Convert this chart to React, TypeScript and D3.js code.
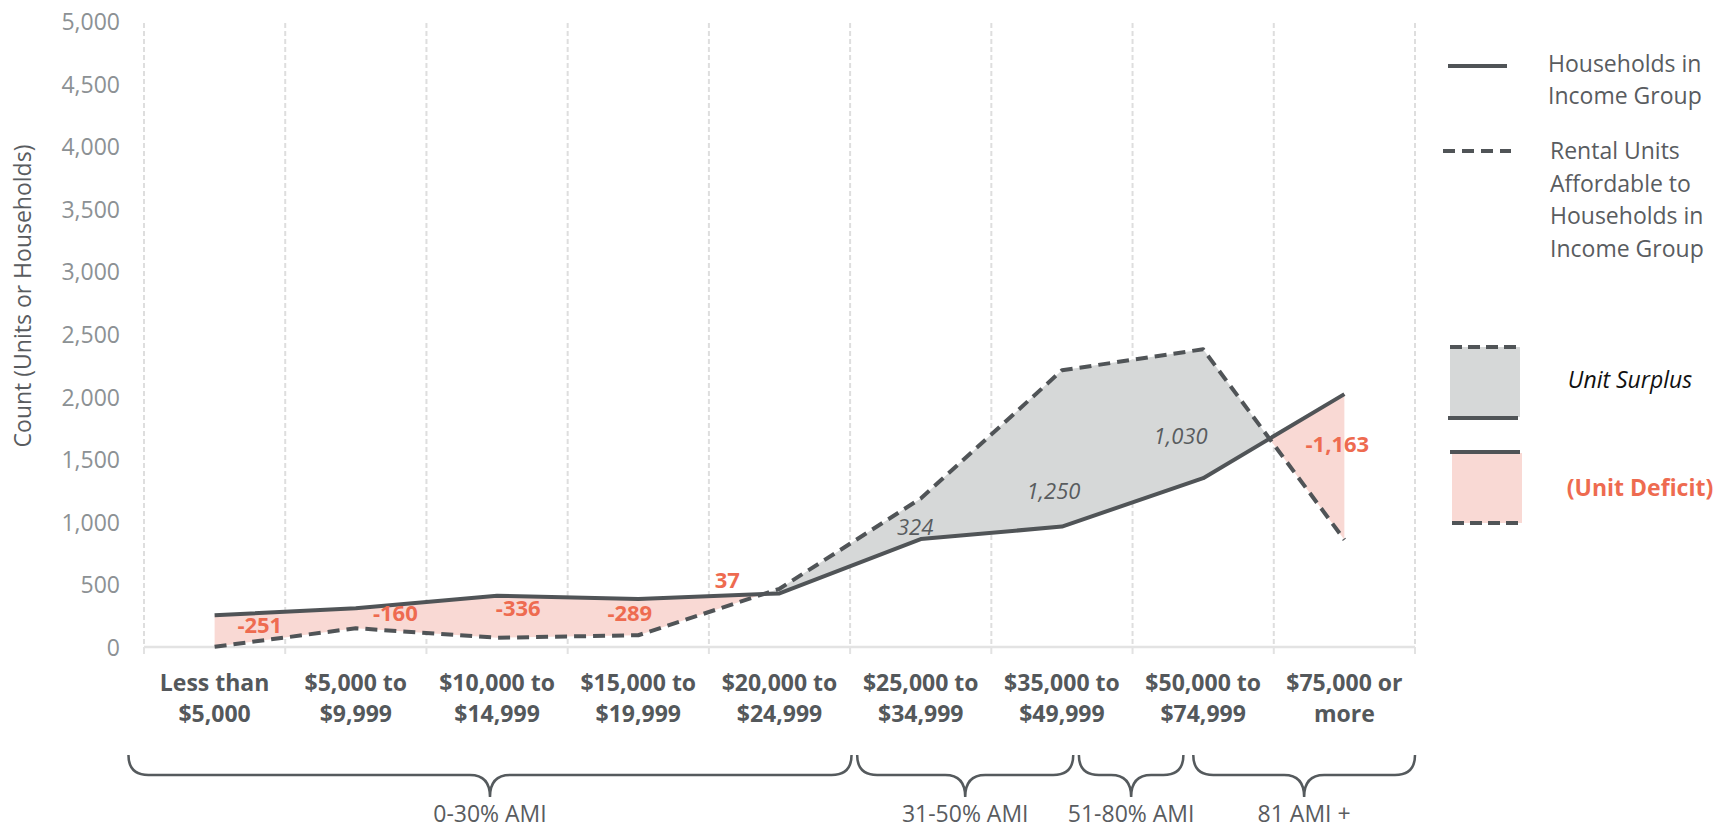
import React from "react";
import * as d3 from "d3";

// ---------- data ----------
const CATEGORIES: string[][] = [
  ["Less than", "$5,000"],
  ["$5,000 to", "$9,999"],
  ["$10,000 to", "$14,999"],
  ["$15,000 to", "$19,999"],
  ["$20,000 to", "$24,999"],
  ["$25,000 to", "$34,999"],
  ["$35,000 to", "$49,999"],
  ["$50,000 to", "$74,999"],
  ["$75,000 or", "more"],
];
const HOUSEHOLDS = [253, 310, 410, 383, 428, 862, 962, 1348, 2020];
const RENTAL_UNITS = [2, 150, 74, 94, 465, 1186, 2210, 2378, 857];
const GAP_LABELS = [-251, -160, -336, -289, 37, 324, 1250, 1030, -1163];
const GAP_KIND = ["deficit", "deficit", "deficit", "deficit", "deficit", "surplus", "surplus", "surplus", "deficit"];
const Y_TICKS = [0, 500, 1000, 1500, 2000, 2500, 3000, 3500, 4000, 4500, 5000];
const AMI_GROUPS = ["0-30% AMI", "31-50% AMI", "51-80% AMI", "81 AMI +"];
const Y_TITLE = "Count (Units or Households)";
const LEGEND_SOLID = ["Households in", "Income Group"];
const LEGEND_DASHED = ["Rental Units", "Affordable to", "Households in", "Income Group"];

// ---------- layout (positions in scale units) ----------
const LABEL_ANCHORS: number[][] = [
  [0.32, 184], [1.28, 280], [2.15, 320], [2.94, 280], [3.63, 543],
  [4.96, 966], [5.94, 1254], [6.84, 1693], [7.95, 1629],
];
const AMI_SPANS: number[][] = [
  [-0.11, 5.01], [5.05, 6.58], [6.62, 7.36], [7.43, 9.0],
];

const W = 1734;
const H = 832;
const FONT = "'Open Sans', 'Noto Sans', sans-serif";
const LINE = "#505457";
const RED = "#ee6b50";
const PINK = "#f9d9d4";
const GREY_FILL = "#d6d8d8";
const TEXT = "#595c5f";
const DASH = "12,7";

const fmt = d3.formatLocale({ decimal: ".", thousands: ",", grouping: [3], currency: ["$", ""], minus: "-" }).format(",");

export default function App() {
  const n = CATEGORIES.length;
  const keys = CATEGORIES.map((c) => c.join(" "));
  const x = d3.scaleBand<string>().domain(keys).range([144, 1415]).padding(0);
  const y = d3.scaleLinear().domain([0, 5000]).range([647, 21]);
  const edge = d3.scaleLinear().domain([0, n]).range([144, 1415]);
  const xc = (i: number) => (x(keys[i]) as number) + x.bandwidth() / 2;
  const xi = d3.scaleLinear().domain([0, n - 1]).range([xc(0), xc(n - 1)]);

  // build runs of same-sign gap, splitting at crossings
  type P = { t: number; h: number; u: number };
  const runs: { sign: number; pts: P[] }[] = [];
  let cur: { sign: number; pts: P[] } | null = null;
  for (let i = 0; i < n; i++) {
    const d = RENTAL_UNITS[i] - HOUSEHOLDS[i];
    const s = d >= 0 ? 1 : -1;
    const p = { t: i, h: HOUSEHOLDS[i], u: RENTAL_UNITS[i] };
    if (!cur) {
      cur = { sign: s, pts: [p] };
      runs.push(cur);
      continue;
    }
    if (s === cur.sign) {
      cur.pts.push(p);
    } else {
      const dp = RENTAL_UNITS[i - 1] - HOUSEHOLDS[i - 1];
      const f = dp / (dp - d);
      const hx = HOUSEHOLDS[i - 1] + f * (HOUSEHOLDS[i] - HOUSEHOLDS[i - 1]);
      const cp = { t: i - 1 + f, h: hx, u: hx };
      cur.pts.push(cp);
      cur = { sign: s, pts: [cp, p] };
      runs.push(cur);
    }
  }
  const area = d3
    .area<P>()
    .x((p) => xi(p.t))
    .y0((p) => y(p.h))
    .y1((p) => y(p.u));
  const lineH = d3.line<number>().x((_, i) => xc(i)).y((v) => y(v));

  const braceTop = 755;
  const braceMid = 775;
  const braceTip = 797;
  const r = 20;
  const bracePath = (L: number, R: number) => {
    const M = (L + R) / 2;
    return `M${L},${braceTop} Q${L},${braceMid} ${L + r},${braceMid} H${M - r} Q${M},${braceMid} ${M},${braceTip} Q${M},${braceMid} ${M + r},${braceMid} H${R - r} Q${R},${braceMid} ${R},${braceTop}`;
  };

  return (
    <svg
      width={W}
      height={H}
      style={{ position: "absolute", left: 0, top: 0, background: "#fff" }}
      fontFamily={FONT}
    >
      {/* gridlines */}
      {d3.range(n + 1).map((k) => (
        <g key={"g" + k}>
          <line x1={edge(k)} x2={edge(k)} y1={y(5000) + 2} y2={y(0)} stroke="#dedede" strokeWidth={2} strokeDasharray="5,3" />
          <line x1={edge(k)} x2={edge(k)} y1={y(0)} y2={y(0) + 7} stroke="#e2e2e2" strokeWidth={2} />
        </g>
      ))}
      <line x1={edge(0)} x2={edge(n)} y1={y(0)} y2={y(0)} stroke="#e3e3e3" strokeWidth={2.5} />

      {/* y ticks */}
      {Y_TICKS.map((t) => (
        <text key={"yt" + t} x={120} y={y(t)} textAnchor="end" dominantBaseline="central" fontSize={23} fill="#8c9194">
          {fmt(t)}
        </text>
      ))}
      <text transform={`translate(31,${(y(0) + y(5000)) / 2 - 38}) rotate(-90)`} textAnchor="middle" fontSize={23} fill={TEXT}>
        {Y_TITLE}
      </text>

      {/* areas */}
      {runs.map((run, k) => (
        <path key={"a" + k} d={area(run.pts) as string} fill={run.sign > 0 ? GREY_FILL : PINK} />
      ))}

      {/* lines */}
      <path d={lineH(HOUSEHOLDS) as string} fill="none" stroke={LINE} strokeWidth={4} strokeLinejoin="round" />
      <path d={lineH(RENTAL_UNITS) as string} fill="none" stroke={LINE} strokeWidth={4} strokeDasharray={DASH} strokeLinejoin="round" />

      {/* gap labels */}
      {GAP_LABELS.map((v, i) => {
        const deficit = GAP_KIND[i] === "deficit";
        return (
          <text
            key={"gl" + i}
            x={xi(LABEL_ANCHORS[i][0])}
            y={y(LABEL_ANCHORS[i][1])}
            textAnchor="middle"
            dominantBaseline="central"
            fontSize={22}
            fontWeight={deficit ? 700 : 400}
            fontStyle={deficit ? "normal" : "italic"}
            fill={deficit ? RED : TEXT}
          >
            {fmt(v)}
          </text>
        );
      })}

      {/* x labels */}
      {CATEGORIES.map((c, i) => (
        <text key={"xl" + i} x={xc(i)} textAnchor="middle" fontSize={23} fontWeight={700} fill="#54585b">
          <tspan x={xc(i)} y={y(0) + 35} dominantBaseline="central">{c[0]}</tspan>
          <tspan x={xc(i)} y={y(0) + 66} dominantBaseline="central">{c[1]}</tspan>
        </text>
      ))}

      {/* braces */}
      {AMI_GROUPS.map((g, k) => {
        const L = edge(AMI_SPANS[k][0]);
        const R = edge(AMI_SPANS[k][1]);
        return (
          <g key={"b" + k}>
            <path d={bracePath(L, R)} fill="none" stroke="#555a5d" strokeWidth={2.5} />
            <text x={(L + R) / 2} y={813} textAnchor="middle" dominantBaseline="central" fontSize={23} fill={TEXT}>
              {g}
            </text>
          </g>
        );
      })}

      {/* legend */}
      <line x1={1448} x2={1507} y1={66} y2={66} stroke={LINE} strokeWidth={4} />
      {LEGEND_SOLID.map((t, i) => (
        <text key={"ls" + i} x={1548} y={63 + i * 32} dominantBaseline="central" fontSize={23} fill={TEXT}>
          {t}
        </text>
      ))}
      <line x1={1443} x2={1511} y1={151} y2={151} stroke={LINE} strokeWidth={4} strokeDasharray={DASH} />
      {LEGEND_DASHED.map((t, i) => (
        <text key={"ld" + i} x={1550} y={150 + i * 32.5} dominantBaseline="central" fontSize={23} fill={TEXT}>
          {t}
        </text>
      ))}

      <rect x={1450} y={347} width={70} height={70} fill={GREY_FILL} />
      <line x1={1450} x2={1520} y1={347} y2={347} stroke={LINE} strokeWidth={4} strokeDasharray="12,6" />
      <line x1={1448} x2={1518} y1={418} y2={418} stroke={LINE} strokeWidth={4} />
      <text x={1630} y={379} textAnchor="middle" dominantBaseline="central" fontSize={23} fontStyle="italic" fill="#111">
        Unit Surplus
      </text>

      <rect x={1452} y={453} width={70} height={70} fill={PINK} />
      <line x1={1450} x2={1520} y1={452} y2={452} stroke={LINE} strokeWidth={4} />
      <line x1={1452} x2={1520} y1={523} y2={523} stroke={LINE} strokeWidth={4} strokeDasharray="12,6" />
      <text x={1640} y={487} textAnchor="middle" dominantBaseline="central" fontSize={23} fontWeight={700} fill={RED}>
        (Unit Deficit)
      </text>
    </svg>
  );
}
